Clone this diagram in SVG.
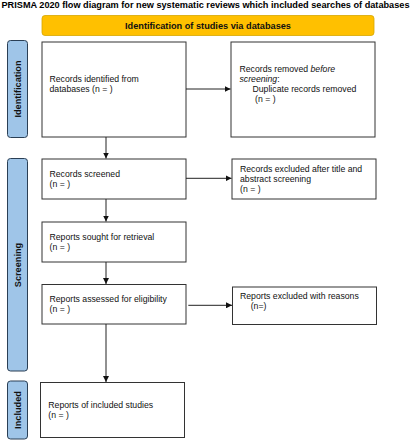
<svg xmlns="http://www.w3.org/2000/svg" width="411" height="440" viewBox="0 0 411 440">
<style>
.box{fill:#fff;stroke:#333;stroke-width:1}
.side{fill:#9fc5e8;stroke:#2a3f55;stroke-width:1}
.t{font-family:"Liberation Sans",Arial,sans-serif;font-size:8.7px;fill:#111}
.st{font-family:"Liberation Sans",Arial,sans-serif;font-size:9.2px;font-weight:bold;fill:#111}
.conn{stroke:#222;stroke-width:1;fill:none;marker-end:url(#ah)}
</style>
<defs>
<marker id="ah" viewBox="0 0 6 6" refX="6" refY="3" markerWidth="6" markerHeight="6" markerUnits="userSpaceOnUse" orient="auto">
<path d="M0,0 L6,3 L0,6 Z" fill="#111"/>
</marker>
</defs>
<rect width="411" height="440" fill="#fff"/>
<text x="205.5" y="8.2" text-anchor="middle" font-family="'Liberation Sans',Arial,sans-serif" font-weight="bold" font-size="8.6px" textLength="408" lengthAdjust="spacingAndGlyphs" fill="#000">PRISMA 2020 flow diagram for new systematic reviews which included searches of databases</text>
<g id="header">
<rect x="42" y="15.5" width="332" height="20" rx="3" fill="#ffc000" stroke="#d6a600" stroke-width="0.8"/>
<text x="208" y="28.5" text-anchor="middle" class="st">Identification of studies via databases</text>
</g>
<g id="side-identification">
<rect x="7.5" y="40.5" width="20" height="97" rx="3" class="side"/>
<text transform="translate(20.8,89) rotate(-90)" text-anchor="middle" class="st">Identification</text>
</g>
<g id="side-screening">
<rect x="7.5" y="158.5" width="20" height="212.5" rx="3" class="side"/>
<text transform="translate(20.8,265) rotate(-90)" text-anchor="middle" class="st">Screening</text>
</g>
<g id="side-included">
<rect x="7.5" y="381" width="20" height="58" rx="3" class="side"/>
<text transform="translate(20.8,410) rotate(-90)" text-anchor="middle" class="st">Included</text>
</g>
<g id="records-identified">
<rect x="42" y="42" width="144" height="95" class="box"/>
<text x="49.5" y="82" class="t">Records identified from</text>
<text x="49.5" y="92.3" class="t">databases (n = )</text>
</g>
<g id="records-removed">
<rect x="231" y="42" width="144" height="95" class="box"/>
<text x="239.5" y="72" class="t">Records removed <tspan font-style="italic">before</tspan></text>
<text x="239.5" y="81.7" class="t"><tspan font-style="italic">screening</tspan>:</text>
<text x="252.5" y="92" class="t">Duplicate records removed</text>
<text x="255" y="101.7" class="t">(n = )</text>
</g>
<g id="records-screened">
<rect x="42" y="159" width="144" height="40" class="box"/>
<text x="49.5" y="176.7" class="t">Records screened</text>
<text x="49.5" y="186.7" class="t">(n = )</text>
</g>
<g id="records-excluded">
<rect x="232" y="159" width="144" height="40" class="box"/>
<text x="240" y="171.7" class="t">Records excluded after title and</text>
<text x="240" y="181.7" class="t">abstract screening</text>
<text x="240" y="191.7" class="t">(n = )</text>
</g>
<g id="reports-sought">
<rect x="42" y="222" width="144" height="40" class="box"/>
<text x="49.5" y="239.5" class="t">Reports sought for retrieval</text>
<text x="49.5" y="250" class="t">(n = )</text>
</g>
<g id="reports-assessed">
<rect x="42" y="284.5" width="144" height="39.5" class="box"/>
<text x="49.5" y="302" class="t">Reports assessed for eligibility</text>
<text x="49.5" y="312" class="t">(n = )</text>
</g>
<g id="reports-excluded">
<rect x="232.5" y="287" width="144" height="37.5" class="box"/>
<text x="240" y="299" class="t">Reports excluded with reasons</text>
<text x="250.7" y="308.7" class="t">(n=)</text>
</g>
<g id="reports-included">
<rect x="40.5" y="382.5" width="144" height="55" class="box"/>
<text x="48.3" y="408.3" class="t">Reports of included studies</text>
<text x="48.3" y="418.3" class="t">(n = )</text>
</g>
<g id="connectors">
<line x1="186" y1="89" x2="230.5" y2="89" class="conn"/>
<line x1="106" y1="137" x2="106" y2="158.5" class="conn"/>
<line x1="186" y1="178.3" x2="231.5" y2="178.3" class="conn"/>
<line x1="106" y1="199" x2="106" y2="221.5" class="conn"/>
<line x1="106" y1="262" x2="106" y2="284" class="conn"/>
<line x1="188.3" y1="305.3" x2="232" y2="305.3" class="conn"/>
<line x1="106" y1="324" x2="106" y2="382" class="conn"/>
</g>
</svg>
